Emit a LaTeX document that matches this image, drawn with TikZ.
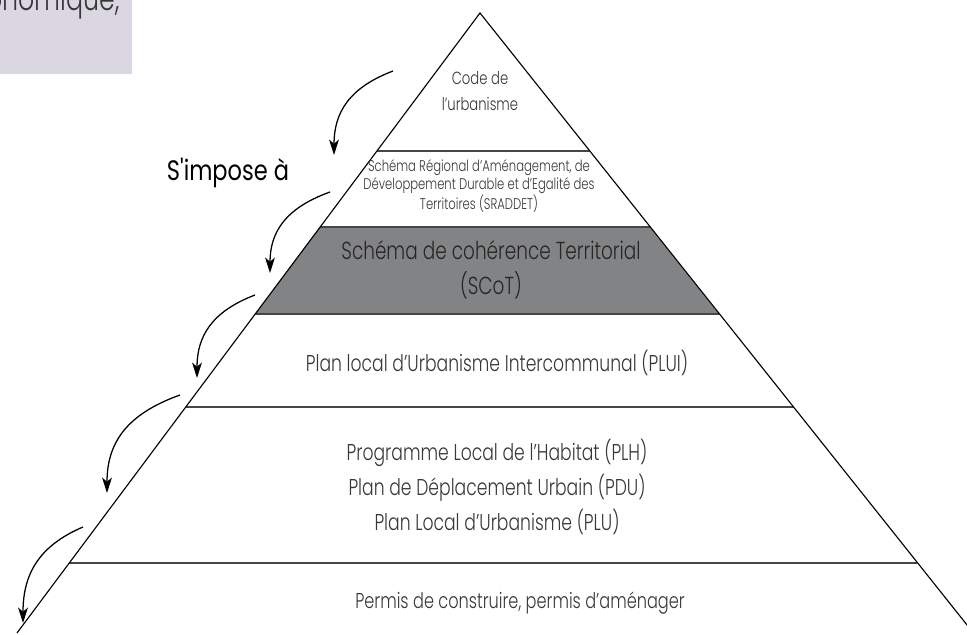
\documentclass[tikz,border=0pt]{standalone}
\usepackage{fontspec}
\setmainfont{Poppins}[UprightFont=* Light, FakeStretch=0.75]
\newfontfamily\imposefont{Poppins}[FakeStretch=0.8]
\usetikzlibrary{arrows.meta}
\definecolor{bandgray}{RGB}{130,131,133}
\definecolor{boxlilac}{RGB}{218,215,226}
\definecolor{txtgray}{RGB}{55,55,55}
\definecolor{rulegray}{RGB}{70,70,70}

\begin{document}
\begin{tikzpicture}[x=0.025cm,y=-0.025cm,
  edge/.style={line width=0.8pt},
  level/.style={rulegray,line width=1.3pt},
  lbl/.style={text=txtgray,align=center,inner sep=0pt,font=\fontsize{16.3}{25}\selectfont},
  small/.style={lbl,font=\fontsize{11}{13}\selectfont},
  curvearrow/.style={line width=0.9pt,-{Stealth[length=11pt,width=7pt,inset=3pt]}}]
\useasboundingbox (0,0) rectangle (967,635);
\clip (0,0) rectangle (967,635);
\fill[boxlilac] (0,0) rectangle (132,74);
\node[anchor=base east,text=txtgray,inner sep=0pt,font=\fontsize{24}{28}\selectfont] (eco) at (120,11) {économique,};
\coordinate (apex) at (480,13);
\fill[bandgray] (320,227) -- (650,227) -- (719,314) -- (255,314) -- cycle;
\foreach \yy in {151,227,314,407,563}
  \draw[level] ({480-0.747*(\yy-13)},\yy) -- ({480+0.795*(\yy-13)},\yy);
\draw[edge] (17,633) -- (apex) -- (975,635);
\node[small,font=\fontsize{12.5}{19}\selectfont] (code) at (480,91) {Code de\\l'urbanisme};
\node[small] (sraddet) at (479,186) {Schéma Régional d'Aménagement, de\\Développement Durable et d'Egalité des\\Territoires (SRADDET)};
\node[lbl,text=black!85,font=\fontsize{17.5}{25}\selectfont] (scot) at (491,270) {Schéma de cohérence Territorial\\(SCoT)};
\node[lbl] (plui) at (497,363) {Plan local d'Urbanisme Intercommunal (PLUI)};
\node[lbl] (plh) at (497,487) {Programme Local de l'Habitat (PLH)\\Plan de Déplacement Urbain (PDU)\\Plan Local d'Urbanisme (PLU)};
\node[lbl,font=\fontsize{15.3}{25}\selectfont] (permis) at (520,603) {Permis de construire, permis d'aménager};
\node[text=black,inner sep=0pt,font=\imposefont\fontsize{20}{24}\selectfont] (impose) at (228,173) {S'impose à};
\foreach \sx/\sy/\ex/\ey [count=\i] in {393/71/334/155, 330/192/270/273, 255/295/197/378, 180/395/107/493, 83/527/23/623}{
  \coordinate (s\i) at (\sx,\sy);
  \coordinate (e\i) at (\ex,\ey);
  \draw[curvearrow] (s\i) .. controls +({0.75*(\ex-\sx)},{0.2*(\ey-\sy)}) and +(0,{-0.5*(\ey-\sy)}) .. (e\i);
}
\end{tikzpicture}
\end{document}
